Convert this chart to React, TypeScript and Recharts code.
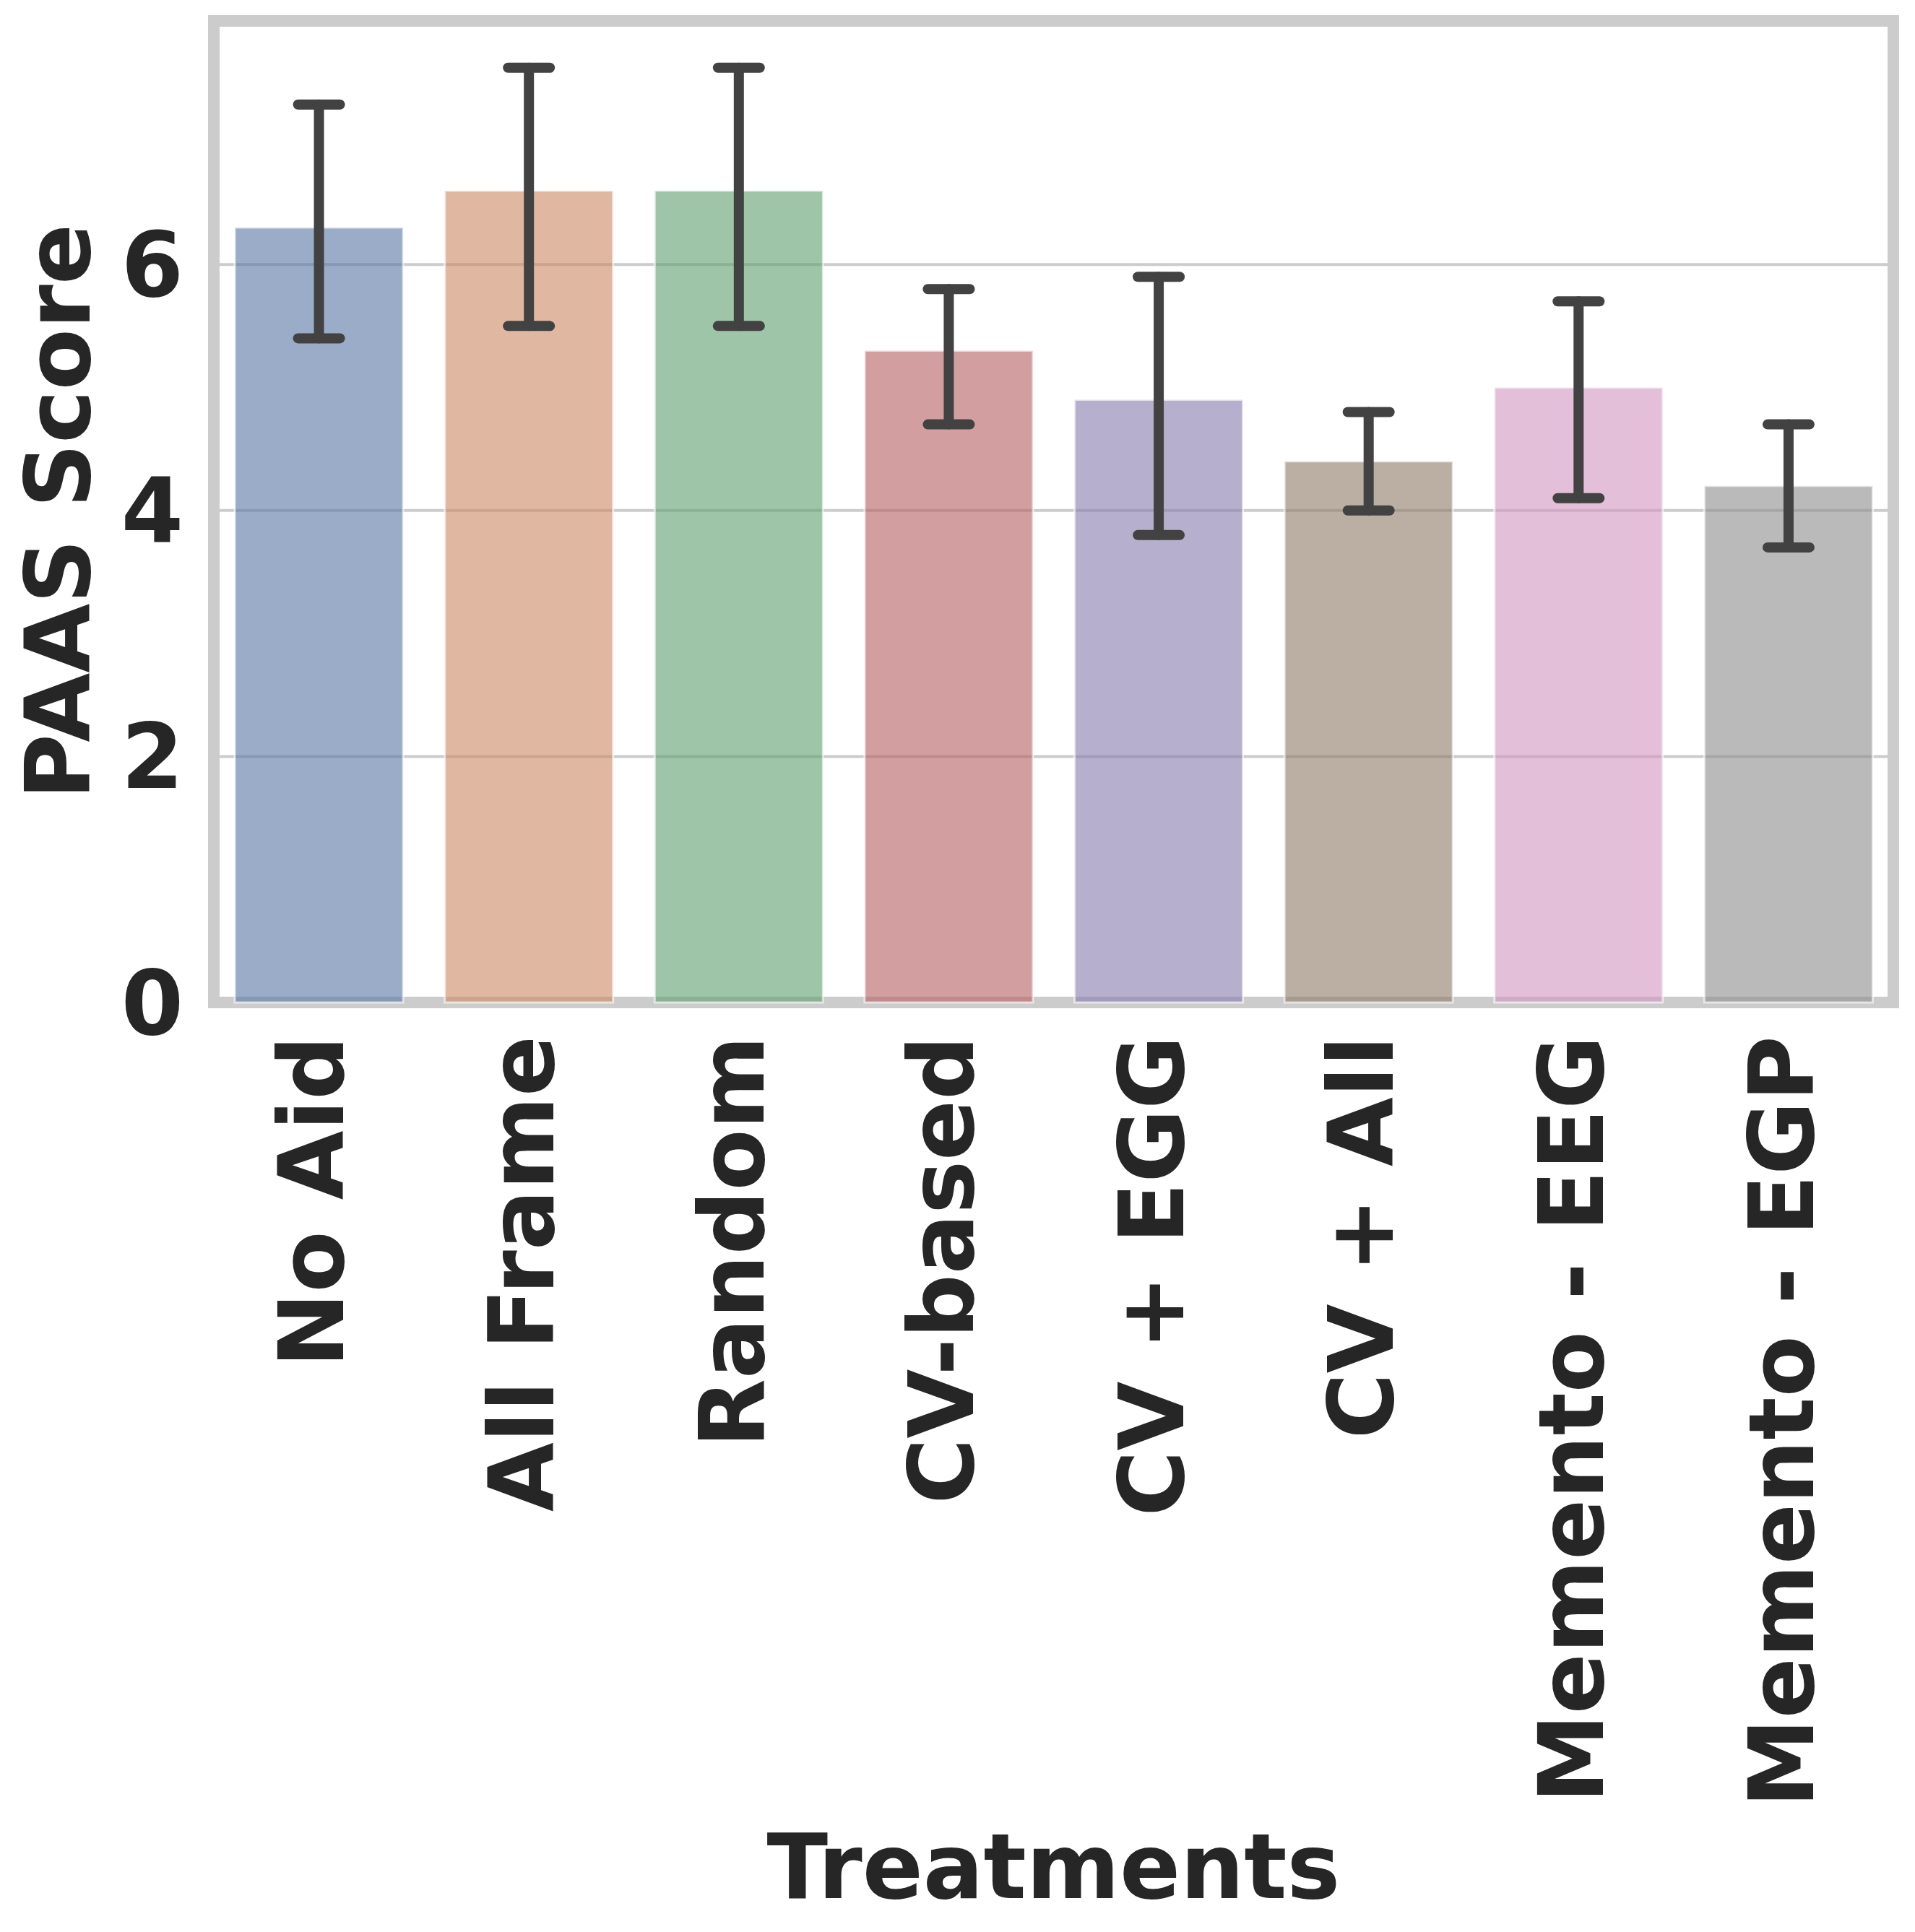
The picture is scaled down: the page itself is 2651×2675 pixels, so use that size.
import React from "react";
import {Bar, BarChart, CartesianGrid, Cell, ErrorBar, Label, ReferenceArea, XAxis, YAxis} from "recharts";

const treatments = ['No Aid', 'All Frame', 'Random', 'CV-based', 'CV + EGG', 'CV + All', 'Memento - EEG', 'Memento - EGP'];
const paasMean = [6.3, 6.6, 6.6, 5.3, 4.9, 4.4, 5.0, 4.2];
const ciLow = [5.4, 5.5, 5.5, 4.7, 3.8, 4.0, 4.1, 3.7];
const ciHigh = [7.3, 7.6, 7.6, 5.8, 5.9, 4.8, 5.7, 4.7];
const yTicks = [0, 2, 4, 6];

// seaborn "deep" palette, desaturated to 0.75
const barColors = ['#5875A4', '#CC8963', '#5F9E6E', '#B55D60', '#857AAB', '#8D7866', '#D095BF', '#8C8C8C'];

const data = treatments.map((name, i) => ({
  name,
  score: paasMean[i],
  err: [paasMean[i] - ciLow[i], ciHigh[i] - paasMean[i]],
}));

const FONT = "'DejaVu Sans', sans-serif";
const TEXT = '#262626';
const FS = 124;

const XTick = ({x, y, payload}: any) => (
  <text
    transform={`translate(${x},${y}) rotate(-90)`}
    x={0}
    y={0}
    dy={34}
    textAnchor="end"
    fontSize={FS}
    fontWeight="bold"
    fontFamily={FONT}
    fill={TEXT}
  >
    {payload.value}
  </text>
);

const YTitle = ({viewBox}: any) => {
  const cy = viewBox.y + viewBox.height / 2;
  return (
    <text
      transform={`translate(124,${cy}) rotate(-90)`}
      textAnchor="middle"
      fontSize={FS}
      fontWeight="bold"
      fontFamily={FONT}
      fill={TEXT}
    >
      PAAS Score
    </text>
  );
};

const XTitle = ({viewBox}: any) => (
  <text
    x={viewBox.x + viewBox.width / 2}
    y={2628}
    textAnchor="middle"
    fontSize={FS}
    fontWeight="bold"
    fontFamily={FONT}
    fill={TEXT}
  >
    Treatments
  </text>
);

export default function App() {
  return (
    <div style={{position: 'absolute', left: 0, top: 0, background: '#fff'}}>
      <BarChart
        width={2651}
        height={2675}
        data={data}
        margin={{top: 29, right: 30, bottom: 0, left: 0}}
        barCategoryGap="10%"
      >
        <CartesianGrid vertical={false} stroke="#cccccc" strokeWidth={4}/>
        <XAxis
          dataKey="name"
          height={1287}
          axisLine={false}
          tickLine={false}
          tickSize={0}
          tickMargin={46}
          interval={0}
          tick={<XTick/>}
        >
          <Label content={<XTitle/>}/>
        </XAxis>
        <YAxis
          width={296}
          domain={[0, 7.98]}
          ticks={yTicks}
          axisLine={false}
          tickLine={false}
          tickSize={0}
          tickMargin={42}
          tick={{fontSize: FS, fontWeight: 'bold', fontFamily: FONT, fill: TEXT}}
        >
          <Label content={<YTitle/>}/>
        </YAxis>
        <Bar
          dataKey="score"
          isAnimationActive={false}
          fillOpacity={0.6}
          stroke="#ffffff"
          strokeOpacity={0.6}
          strokeWidth={3}
        >
          {data.map((d, i) => (
            <Cell key={d.name} fill={barColors[i]}/>
          ))}
          <ErrorBar
            dataKey="err"
            width={29}
            stroke="#424242"
            strokeWidth={14}
            strokeLinecap="round"
            isAnimationActive={false}
          />
        </Bar>
        <ReferenceArea y1={0} y2={7.98} fill="none" stroke="#cccccc" strokeWidth={16} fillOpacity={0}/>
      </BarChart>
    </div>
  );
}
